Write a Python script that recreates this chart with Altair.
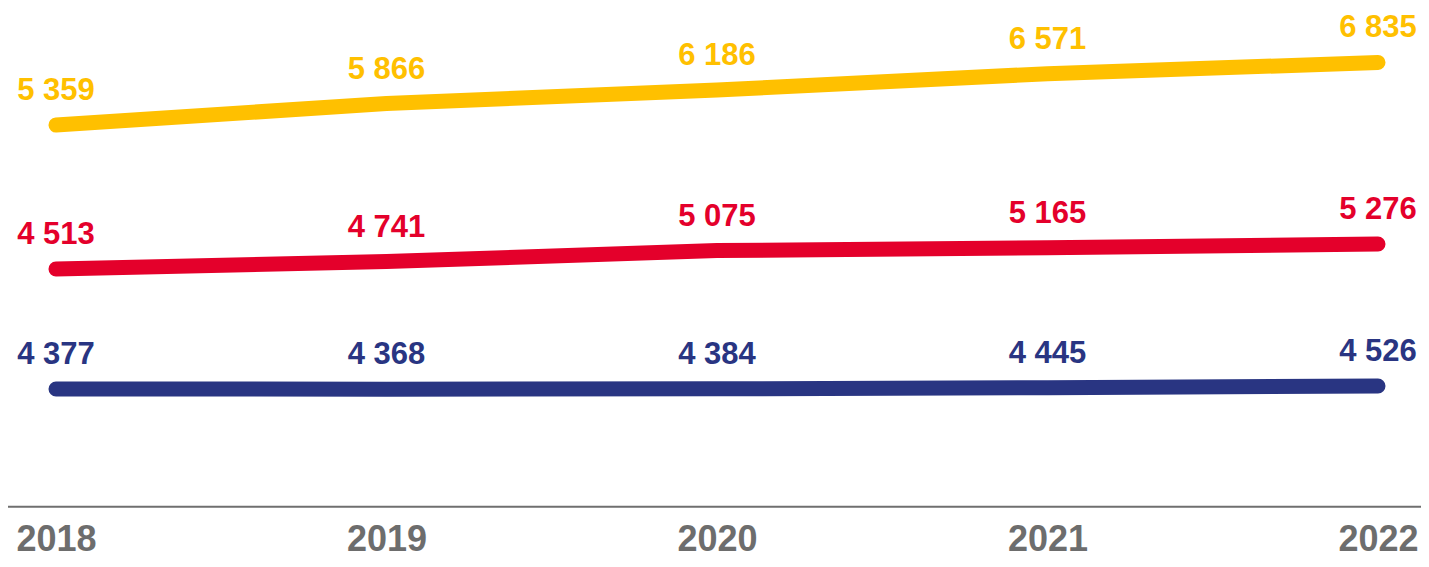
import altair as alt
import pandas as pd

# ---- data ----
years = ["2018", "2019", "2020", "2021", "2022"]
yellow_vals = [5359, 5866, 6186, 6571, 6835]
red_vals = [4513, 4741, 5075, 5165, 5276]
blue_vals = [4377, 4368, 4384, 4445, 4526]

series = [
    ("yellow", yellow_vals, "#FFC000", [-3655, 8122]),
    ("red", red_vals, "#E4002B", [-2742, 12479]),
    ("blue", blue_vals, "#293582", [-1469, 23300]),
]

W = 1322
H = 498.7
PAD_L, PAD_R, PAD_B = 48, 43, 52.3
FONT = "Liberation Sans"

x_enc = alt.X(
    "year:N",
    sort=years,
    scale=alt.Scale(type="point", padding=0, domain=years),
    axis=alt.Axis(
        title=None, domain=False, ticks=False, tickSize=0, grid=False,
        labelAngle=0, labelPadding=15.5, labelFont=FONT, labelFontSize=36,
        labelFontWeight="bold", labelColor="#6D6D6D", labelFlush=False,
        labelOverlap=False,
    ),
)

layers = []
for name, vals, color, dom in series:
    df = pd.DataFrame({
        "year": years,
        "value": vals,
        "label": [f"{v:,}".replace(",", " ") for v in vals],
    })
    y_enc = alt.Y("value:Q", scale=alt.Scale(domain=dom, zero=False, nice=False), axis=None)
    base = alt.Chart(df)
    line = base.mark_line(strokeWidth=15, strokeCap="round", strokeJoin="round", color=color).encode(
        x=x_enc, y=y_enc
    )
    text = base.mark_text(
        font=FONT, fontSize=31, fontWeight="bold", color=color,
        align="center", baseline="alphabetic", dy=-25,
    ).encode(x=x_enc, y=y_enc, text="label:N")
    layers.append(alt.layer(line, text))

rule = alt.Chart(alt.Data(values=[{"k": 1}])).mark_rule(color="#6F6F6F", strokeWidth=2).encode(
    x=alt.value(-PAD_L), x2=alt.value(W + PAD_R), y=alt.value(H)
)

chart = (
    alt.layer(*layers, rule)
    .resolve_scale(y="independent")
    .properties(
        width=W, height=H,
        autosize=alt.AutoSizeParams(type="none"),
        padding={"left": PAD_L, "top": 0, "right": PAD_R, "bottom": PAD_B},
        background="white",
    )
    .configure_view(stroke=None)
)

chart.save("out.html", embed_options={"renderer": "svg", "actions": False})
